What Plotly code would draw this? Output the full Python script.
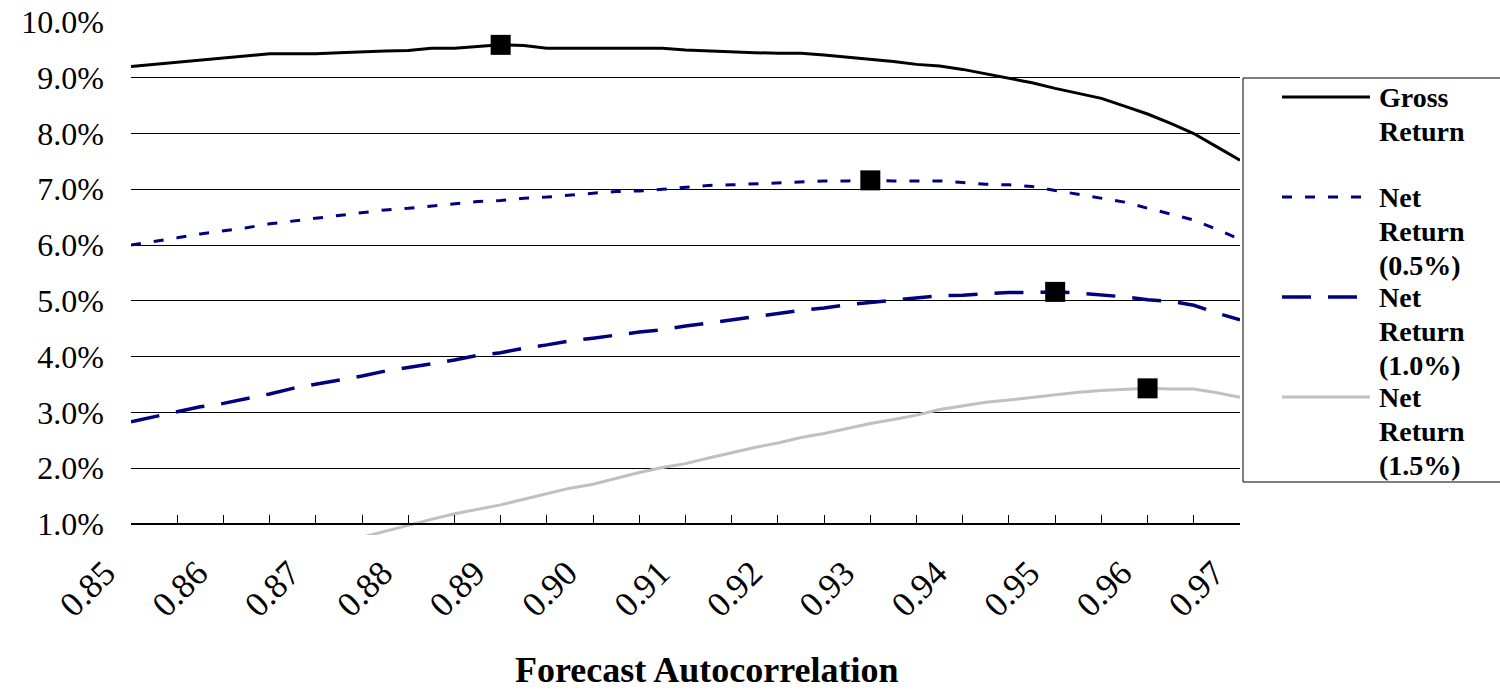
import numpy as np
import plotly.graph_objects as go

# Forecast autocorrelation grid (step 0.0025)
autocorr = [
    0.8500, 0.8525, 0.8550, 0.8575, 0.8600, 0.8625, 0.8650, 0.8675, 0.8700, 0.8725,
    0.8750, 0.8775, 0.8800, 0.8825, 0.8850, 0.8875, 0.8900, 0.8925, 0.8950, 0.8975,
    0.9000, 0.9025, 0.9050, 0.9075, 0.9100, 0.9125, 0.9150, 0.9175, 0.9200, 0.9225,
    0.9250, 0.9275, 0.9300, 0.9325, 0.9350, 0.9375, 0.9400, 0.9425, 0.9450, 0.9475,
    0.9500, 0.9525, 0.9550, 0.9575, 0.9600, 0.9625, 0.9650, 0.9675, 0.9700,
]

# Annual returns in percent
gross_return = [
    9.20, 9.24, 9.28, 9.32, 9.36, 9.40, 9.43, 9.43, 9.43, 9.45,
    9.47, 9.48, 9.49, 9.53, 9.53, 9.56, 9.59, 9.58, 9.53, 9.53,
    9.53, 9.53, 9.53, 9.53, 9.50, 9.48, 9.47, 9.45, 9.44, 9.44,
    9.41, 9.37, 9.34, 9.29, 9.24, 9.21, 9.15, 9.07, 9.00, 8.91,
    8.81, 8.72, 8.63, 8.49, 8.35, 8.18, 8.00, 7.76, 7.52,
]
net_return_05 = [
    6.00, 6.06, 6.13, 6.20, 6.25, 6.31, 6.38, 6.43, 6.47, 6.52,
    6.58, 6.63, 6.66, 6.70, 6.74, 6.78, 6.80, 6.84, 6.86, 6.90,
    6.93, 6.96, 6.97, 7.00, 7.04, 7.07, 7.08, 7.10, 7.11, 7.14,
    7.15, 7.15, 7.16, 7.15, 7.15, 7.15, 7.12, 7.09, 7.08, 7.05,
    6.98, 6.91, 6.84, 6.77, 6.66, 6.56, 6.45, 6.28, 6.10,
]
net_return_10 = [
    2.83, 2.92, 3.01, 3.10, 3.16, 3.24, 3.33, 3.43, 3.50, 3.57,
    3.65, 3.74, 3.80, 3.87, 3.94, 4.02, 4.07, 4.15, 4.21, 4.28,
    4.33, 4.39, 4.44, 4.48, 4.55, 4.60, 4.66, 4.72, 4.77, 4.83,
    4.87, 4.93, 4.97, 5.01, 5.06, 5.09, 5.10, 5.12, 5.15, 5.15,
    5.16, 5.14, 5.11, 5.07, 5.02, 4.99, 4.92, 4.78, 4.66,
]
net_return_15 = [
    -0.40, -0.27, -0.14, -0.02, 0.08, 0.17, 0.28, 0.40, 0.51, 0.63,
    0.76, 0.87, 0.97, 1.08, 1.18, 1.26, 1.34, 1.44, 1.54, 1.64,
    1.71, 1.82, 1.92, 2.01, 2.08, 2.18, 2.28, 2.37, 2.45, 2.55,
    2.62, 2.71, 2.80, 2.87, 2.95, 3.05, 3.11, 3.18, 3.22, 3.27,
    3.32, 3.36, 3.39, 3.41, 3.43, 3.42, 3.42, 3.35, 3.27,
]

x_tick_vals = [0.85, 0.86, 0.87, 0.88, 0.89, 0.90, 0.91, 0.92, 0.93, 0.94, 0.95, 0.96, 0.97]
x_tick_text = ["0.85", "0.86", "0.87", "0.88", "0.89", "0.90", "0.91",
               "0.92", "0.93", "0.94", "0.95", "0.96", "0.97"]
y_tick_vals = [1, 2, 3, 4, 5, 6, 7, 8, 9, 10]
y_tick_text = ["1.0%", "2.0%", "3.0%", "4.0%", "5.0%", "6.0%", "7.0%", "8.0%", "9.0%", "10.0%"]

series_names = [["Gross", "Return"],
                ["Net", "Return", "(0.5%)"],
                ["Net", "Return", "(1.0%)"],
                ["Net", "Return", "(1.5%)"]]

NAVY = "#000080"
SILVER = "#C0C0C0"
SERIF = "Liberation Serif"

series = [
    (gross_return, dict(color="black", width=3)),
    (net_return_05, dict(color=NAVY, width=3, dash="10px,13px")),
    (net_return_10, dict(color=NAVY, width=3.5, dash="29px,17px")),
    (net_return_15, dict(color=SILVER, width=3)),
]

fig = go.Figure()
for vals, line in series:
    fig.add_trace(go.Scatter(x=autocorr, y=vals, mode="lines", line=line,
                             showlegend=False, hoverinfo="skip"))

# Black square on the peak of each curve
for vals, _ in series:
    i = int(np.argmax(vals))
    fig.add_trace(go.Scatter(x=[autocorr[i]], y=[vals[i]], mode="markers",
                             marker=dict(symbol="square", size=20, color="black"),
                             showlegend=False, hoverinfo="skip"))

# Plot-area geometry (pixels)
L, R, T, B = 131, 1240, 22, 535
Y_MIN = 0.8
pw, ph = R - L, B - T
axis_frac = (1.0 - Y_MIN) / (10 - Y_MIN)


def xp(px):
    return (px - L) / pw


def yp(py):
    return (B - py) / ph


fig.update_layout(
    width=1500, height=694,
    margin=dict(l=L, r=1500 - R, t=T, b=694 - B, autoexpand=False),
    paper_bgcolor="white",
    plot_bgcolor="rgba(0,0,0,0)",
    xaxis=dict(
        range=[0.85, 0.97], anchor="free", position=axis_frac, automargin=False,
        tickvals=x_tick_vals, ticktext=x_tick_text, tickangle=-45,
        ticks="inside", ticklen=8, tickcolor="black", tickwidth=1,
        minor=dict(dtick=0.005, tick0=0.85, ticks="inside", ticklen=8,
                   tickcolor="black", tickwidth=1, showgrid=False),
        showline=True, linecolor="black", linewidth=1.5,
        showgrid=False, zeroline=False,
        tickfont=dict(family=SERIF, size=35, color="black"),
        ticklabelstandoff=14, ticklabelshift=-26,
    ),
    yaxis=dict(
        range=[Y_MIN, 10], domain=[0, 1], anchor="x", automargin=False,
        tickvals=y_tick_vals, ticktext=y_tick_text,
        showgrid=True, gridcolor="black", gridwidth=1,
        zeroline=False, showline=False, ticks="",
        tickfont=dict(family=SERIF, size=32, color="black"),
        ticklabelstandoff=26,
    ),
    yaxis2=dict(
        range=[1, 10], domain=[axis_frac, 1], anchor="x", automargin=False,
        showline=True, mirror=True, linecolor="#555555", linewidth=1.5,
        showticklabels=False, showgrid=False, zeroline=False, ticks="",
    ),
)

# Legend box, line samples and labels
shapes = [dict(type="rect", xref="paper", yref="paper",
               x0=xp(1243), x1=xp(1520), y0=yp(482), y1=yp(78),
               line=dict(color="black", width=1), fillcolor="white", layer="above")]
annotations = []
sample_y = [97, 197, 297, 397]
line_gap = 34
for (vals, line), names, sy in zip(series, series_names, sample_y):
    shapes.append(dict(type="line", xref="paper", yref="paper",
                       x0=xp(1282), x1=xp(1370), y0=yp(sy), y1=yp(sy),
                       line=line, layer="above"))
    for j, txt in enumerate(names):
        annotations.append(dict(
            text="<b>%s</b>" % txt, xref="paper", yref="paper",
            x=xp(1377), y=yp(sy + j * line_gap), xanchor="left", yanchor="middle",
            showarrow=False, font=dict(family=SERIF, size=28, color="black")))

annotations.append(dict(
    text="<b>Forecast Autocorrelation</b>", xref="paper", yref="paper",
    x=xp(707), y=yp(692), xanchor="center", yanchor="bottom", showarrow=False,
    font=dict(family=SERIF, size=36, color="black")))

fig.update_layout(shapes=shapes, annotations=annotations)

fig.write_html("out.html")
